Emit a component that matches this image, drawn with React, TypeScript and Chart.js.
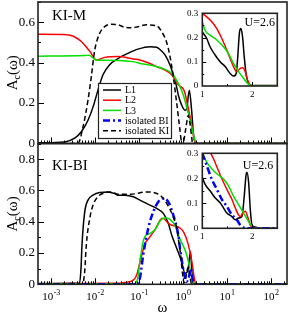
import React, { useEffect, useRef } from "react";
import { Chart, registerables } from "chart.js";

Chart.register(...registerables);

type Pt = [number, number];

const FONT = '"Liberation Serif", "Times New Roman", serif';

// ---------- labels ----------
const SERIES_LABELS = ["L1", "L2", "L3", "isolated BI", "isolated KI"];
const PANEL_LABELS = ["KI-M", "KI-BI"];
const INSET_NOTE = "U=2.6";
const X_TICK_EXPONENTS = [-3, -2, -1, 0, 1, 2];
const X_TITLE = "ω";

// ---------- axis ranges ----------
const X_MIN = 5.07e-4;
const X_MAX = 231;
const TOP_Y_MAX = 0.7;
const BOT_Y_MAX = 0.9;
const MAIN_Y_STEP = 0.2;
const INSET_X_MIN = 1;
const INSET_X_MAX = 2.5;
const INSET_Y_MAX = 0.3;
const INSET_Y_STEP = 0.1;

// ---------- top panel (KI-M) ----------
const TOP_L1: Pt[] = [
  [5.07e-4, 0.004], [0.00205, 0.008], [0.00346, 0.026], [0.00489, 0.058], [0.00694, 0.115],
  [0.00901, 0.18], [0.0117, 0.264], [0.0152, 0.34], [0.0216, 0.39], [0.0333, 0.42],
  [0.0562, 0.446], [0.0948, 0.467], [0.178, 0.479], [0.252, 0.476], [0.3, 0.465],
  [0.39, 0.438], [0.507, 0.388], [0.602, 0.34], [0.7, 0.29], [0.782, 0.24],
  [0.933, 0.19], [1.11, 0.165], [1.21, 0.17], [1.39, 0.264], [1.58, 0.157],
  [1.71, 0.058], [1.87, 0.01], [2.08, 0], [231, 0],
];
const TOP_L2: Pt[] = [
  [5.07e-4, 0.54], [0.00231, 0.538], [0.00457, 0.51], [0.00769, 0.455], [0.0107, 0.413],
  [0.0166, 0.426], [0.0333, 0.43], [0.0742, 0.418], [0.105, 0.413], [0.178, 0.396],
  [0.252, 0.38], [0.357, 0.367], [0.553, 0.34], [0.782, 0.29], [1.07, 0.26],
  [1.32, 0.174], [1.58, 0.09], [1.81, 0.016], [2.0, 0], [231, 0],
];
const TOP_L3: Pt[] = [
  [5.07e-4, 0.432], [0.00593, 0.435], [0.00731, 0.437], [0.0105, 0.413], [0.0169, 0.412],
  [0.037, 0.41], [0.073, 0.405], [0.125, 0.393], [0.211, 0.385], [0.357, 0.37],
  [0.553, 0.347], [0.782, 0.297], [1.016, 0.24], [1.32, 0.149], [1.58, 0.082],
  [1.81, 0.025], [2.08, 0], [231, 0],
];
const TOP_BI: Pt[] = [];
const TOP_KI: Pt[] = [
  [5.07e-4, 0], [0.00411, 0], [0.00534, 0.082], [0.00694, 0.215], [0.00824, 0.33],
  [0.00984, 0.46], [0.0128, 0.545], [0.0166, 0.578], [0.0234, 0.59], [0.0333, 0.587],
  [0.0473, 0.575], [0.0669, 0.572], [0.0948, 0.578], [0.15, 0.587], [0.252, 0.582],
  [0.328, 0.553], [0.426, 0.5], [0.507, 0.43], [0.602, 0.33], [0.719, 0.2],
  [0.84, 0.08], [0.92, 0.015], [1.03, 0.012], [1.13, 0.06], [1.25, 0.12],
  [1.32, 0.14], [1.44, 0.1], [1.58, 0.03], [1.65, 0], [231, 0],
];

// ---------- bottom panel (KI-BI) ----------
const BOT_L1: Pt[] = [
  [5.07e-4, 0.005], [0.00445, 0.008], [0.00481, 0.1], [0.00506, 0.25], [0.00583, 0.46],
  [0.00694, 0.538], [0.00901, 0.57], [0.0128, 0.587], [0.0197, 0.59], [0.028, 0.58],
  [0.0333, 0.57], [0.0473, 0.57], [0.0742, 0.56], [0.105, 0.538], [0.178, 0.506],
  [0.252, 0.485], [0.357, 0.453], [0.463, 0.39], [0.553, 0.315], [0.719, 0.23],
  [0.933, 0.144], [1.11, 0.07], [1.3, 0.09], [1.48, 0.21], [1.56, 0.12],
  [1.68, 0.01], [1.87, 0], [231, 0],
];
const BOT_L2: Pt[] = [
  [5.07e-4, 0.004], [0.0285, 0.006], [0.048, 0.012], [0.0742, 0.027], [0.0887, 0.06],
  [0.105, 0.14], [0.114, 0.18], [0.136, 0.26], [0.163, 0.29], [0.195, 0.32],
  [0.232, 0.35], [0.275, 0.39], [0.33, 0.42], [0.357, 0.42], [0.463, 0.39],
  [0.602, 0.375], [0.855, 0.36], [1.05, 0.33], [1.3, 0.26], [1.58, 0.15],
  [1.78, 0.05], [1.97, 0], [231, 0],
];
const BOT_L3: Pt[] = [
  [5.07e-4, 0.003], [0.08, 0.003], [0.0967, 0.06], [0.105, 0.155], [0.114, 0.21],
  [0.121, 0.26], [0.136, 0.305], [0.178, 0.325], [0.232, 0.35], [0.3, 0.405],
  [0.39, 0.425], [0.507, 0.415], [0.658, 0.375], [0.855, 0.29], [1.21, 0.19],
  [1.44, 0.1], [1.7, 0.02], [1.87, 0], [231, 0],
];
const BOT_BI: Pt[] = [
  [5.07e-4, 0], [0.0925, 0], [0.105, 0.04], [0.125, 0.19], [0.163, 0.36],
  [0.211, 0.464], [0.275, 0.527], [0.357, 0.55], [0.463, 0.527], [0.602, 0.443],
  [0.782, 0.315], [0.855, 0.23], [1.04, 0.08], [1.21, 0.017], [1.37, 0.05],
  [1.5, 0.1], [1.69, 0.02], [1.87, 0], [231, 0],
];
const BOT_KI: Pt[] = [
  [5.07e-4, 0], [0.0052, 0], [0.00583, 0.08], [0.00634, 0.25], [0.00759, 0.42],
  [0.00901, 0.506], [0.0117, 0.56], [0.0166, 0.585], [0.0234, 0.59], [0.0333, 0.575],
  [0.0624, 0.575], [0.15, 0.59], [0.3, 0.57], [0.426, 0.517], [0.602, 0.43],
  [0.719, 0.36], [0.782, 0.294], [0.855, 0.22], [0.984, 0.06], [1.04, 0.016],
  [1.1, 0.01], [1.17, 0.05], [1.32, 0.11], [1.44, 0.05], [1.58, 0], [231, 0],
];

// ---------- insets (linear ω from 1 to 2.5) ----------
const TOP_IN_L1: Pt[] = [
  [1.0, 0.223], [1.089, 0.196], [1.155, 0.162], [1.256, 0.128], [1.356, 0.1],
  [1.457, 0.08], [1.557, 0.052], [1.624, 0.041], [1.678, 0.052], [1.704, 0.107],
  [1.745, 0.223], [1.773, 0.237], [1.805, 0.203], [1.839, 0.12], [1.879, 0.045],
  [1.926, 0.011], [1.994, 0.002], [2.5, 0.002],
];
const TOP_IN_L2: Pt[] = [
  [1.0, 0.299], [1.089, 0.285], [1.189, 0.265], [1.29, 0.237], [1.39, 0.196],
  [1.49, 0.148], [1.557, 0.114], [1.624, 0.08], [1.692, 0.059], [1.759, 0.073],
  [1.805, 0.075], [1.859, 0.059], [1.905, 0.025], [1.96, 0.004], [2.0, 0], [2.5, 0],
];
const TOP_IN_L3: Pt[] = [
  [1.0, 0.265], [1.054, 0.23], [1.155, 0.21], [1.29, 0.19], [1.423, 0.162],
  [1.523, 0.134], [1.624, 0.093], [1.724, 0.059], [1.825, 0.032], [1.905, 0.011],
  [1.994, 0], [2.5, 0],
];
const BOT_IN_L1: Pt[] = [
  [1.0, 0.204], [1.054, 0.177], [1.155, 0.15], [1.256, 0.122], [1.356, 0.102],
  [1.423, 0.082], [1.49, 0.061], [1.592, 0.047], [1.658, 0.034], [1.724, 0.041],
  [1.793, 0.047], [1.839, 0.129], [1.873, 0.21], [1.893, 0.224], [1.926, 0.184],
  [1.96, 0.075], [1.994, 0.013], [2.06, 0.005], [2.15, 0], [2.5, 0],
];
const BOT_IN_L2: Pt[] = [
  [1.0, 0.37], [1.155, 0.306], [1.221, 0.279], [1.322, 0.231], [1.423, 0.184],
  [1.523, 0.143], [1.592, 0.116], [1.658, 0.082], [1.724, 0.054], [1.759, 0.047],
  [1.813, 0.061], [1.859, 0.068], [1.905, 0.047], [1.96, 0.013], [2.03, 0], [2.5, 0],
];
const BOT_IN_L3: Pt[] = [
  [1.0, 0.3], [1.089, 0.265], [1.189, 0.238], [1.29, 0.218], [1.423, 0.197],
  [1.523, 0.17], [1.624, 0.129], [1.724, 0.095], [1.825, 0.061], [1.926, 0.027],
  [1.994, 0.009], [2.06, 0], [2.5, 0],
];
const BOT_IN_BI: Pt[] = [
  [1.0, 0.3], [1.089, 0.251], [1.189, 0.197], [1.29, 0.156], [1.39, 0.116],
  [1.49, 0.088], [1.592, 0.054], [1.692, 0.034], [1.759, 0.013], [1.825, 0.003],
  [1.9, 0], [2.5, 0],
];

// ---------- styles ----------
const STYLES = [
  { color: "#000000", width: 1.5, dash: [] as number[] },
  { color: "#ff0000", width: 1.5, dash: [] as number[] },
  { color: "#00e000", width: 1.5, dash: [] as number[] },
  { color: "#0000ff", width: 2.5, dash: [7, 3, 2, 3] },
  { color: "#000000", width: 1.5, dash: [5, 3] },
];

function ds(i: number, data: Pt[]) {
  const s = STYLES[i];
  return {
    label: SERIES_LABELS[i],
    data,
    borderColor: s.color,
    backgroundColor: s.color,
    borderWidth: s.width,
    borderDash: s.dash,
    pointRadius: 0,
    pointHoverRadius: 0,
    fill: false,
    order: 5 - i,
    cubicInterpolationMode: "monotone" as const,
  };
}

const fmt = (v: number, d: number) => (Math.abs(v) < 1e-9 ? "0" : Number(v).toFixed(d));

function mainDecor(p: { panel: string; panelBaseline: number; legend: boolean; bottomAxis: boolean }) {
  return {
    id: "mainDecor",
    afterDraw(chart: any) {
      const ctx: CanvasRenderingContext2D = chart.ctx;
      const { left, right, top, bottom } = chart.chartArea;
      const xs = chart.scales.x;
      const ys = chart.scales.y;
      ctx.save();
      // inward ticks
      ctx.strokeStyle = "#000";
      ctx.lineWidth = 1;
      ctx.setLineDash([]);
      ctx.beginPath();
      for (let k = -4; k <= 3; k++) {
        for (let m = 1; m <= 9; m++) {
          const v = m * Math.pow(10, k);
          if (v < xs.min || v > xs.max) continue;
          const x = Math.round(xs.getPixelForValue(v)) + 0.5;
          const len = m === 1 ? 6 : 3;
          ctx.moveTo(x, bottom);
          ctx.lineTo(x, bottom - len);
        }
      }
      const nMinor = Math.round(ys.max / (MAIN_Y_STEP / 2));
      for (let j = 1; j <= nMinor; j++) {
        const v = (j * MAIN_Y_STEP) / 2;
        const y = Math.round(ys.getPixelForValue(v)) + 0.5;
        const len = j % 2 === 0 ? 6 : 3;
        ctx.moveTo(left, y);
        ctx.lineTo(left + len, y);
      }
      ctx.stroke();
      // frame
      ctx.lineWidth = 1.6;
      ctx.strokeStyle = "#222";
      ctx.strokeRect(left, top, right - left, bottom - top);

      // y title A_c(ω)
      ctx.fillStyle = "#000";
      ctx.save();
      ctx.translate(12, (top + bottom) / 2);
      ctx.rotate(-Math.PI / 2);
      ctx.textBaseline = "alphabetic";
      ctx.textAlign = "left";
      ctx.font = `15px ${FONT}`;
      const wA = ctx.measureText("A").width;
      const wR = ctx.measureText("(ω)").width;
      ctx.font = `10px ${FONT}`;
      const wc = ctx.measureText("c").width;
      const x0 = -(wA + wc + wR) / 2;
      ctx.font = `15px ${FONT}`;
      ctx.fillText("A", x0, 5);
      ctx.fillText("(ω)", x0 + wA + wc, 5);
      ctx.font = `10px ${FONT}`;
      ctx.fillText("c", x0 + wA, 8);
      ctx.restore();

      // panel label
      ctx.font = `15px ${FONT}`;
      ctx.textAlign = "left";
      ctx.textBaseline = "alphabetic";
      ctx.fillText(p.panel, 52, p.panelBaseline);

      if (p.legend) {
        const bx = 98.5, by = 83.5, bw = 73, bh = 55;
        ctx.fillStyle = "#fff";
        ctx.fillRect(bx, by, bw, bh);
        ctx.strokeStyle = "#222";
        ctx.lineWidth = 1.2;
        ctx.strokeRect(bx, by, bw, bh);
        SERIES_LABELS.forEach((lab, i) => {
          const y = 90 + i * 10.2;
          const s = STYLES[i];
          ctx.strokeStyle = s.color;
          ctx.lineWidth = s.width;
          ctx.setLineDash(s.dash);
          ctx.beginPath();
          ctx.moveTo(103, y);
          ctx.lineTo(121, y);
          ctx.stroke();
          ctx.setLineDash([]);
          ctx.fillStyle = "#000";
          ctx.font = `10px ${FONT}`;
          ctx.textBaseline = "middle";
          ctx.fillText(lab, 125, y + 0.5);
        });
      }

      if (p.bottomAxis) {
        ctx.fillStyle = "#000";
        ctx.textBaseline = "alphabetic";
        ctx.textAlign = "left";
        X_TICK_EXPONENTS.forEach((e) => {
          const x = xs.getPixelForValue(Math.pow(10, e));
          ctx.font = `11px ${FONT}`;
          const w1 = ctx.measureText("10").width;
          ctx.font = `8px ${FONT}`;
          const es = String(e);
          const w2 = ctx.measureText(es).width;
          const sx = x - (w1 + w2) / 2;
          ctx.font = `11px ${FONT}`;
          ctx.fillText("10", sx, bottom + 15.7);
          ctx.font = `8px ${FONT}`;
          ctx.fillText(es, sx + w1 + 0.5, bottom + 10.5);
        });
        ctx.font = `15px ${FONT}`;
        ctx.textAlign = "center";
        ctx.textBaseline = "middle";
        ctx.fillText(X_TITLE, (left + right) / 2, bottom + 24);
      }
      ctx.restore();
    },
  };
}

function mainConfig(p: {
  datasets: any[];
  yMax: number;
  padTop: number;
  xAxisHeight: number;
  panel: string;
  panelBaseline: number;
  legend: boolean;
  bottomAxis: boolean;
}): any {
  return {
    type: "line",
    data: { datasets: p.datasets },
    options: {
      animation: false,
      responsive: false,
      maintainAspectRatio: false,
      events: [],
      layout: { padding: { left: 0, top: p.padTop, right: 2, bottom: 0 } },
      plugins: { legend: { display: false }, tooltip: { enabled: false } },
      scales: {
        x: {
          type: "logarithmic",
          min: X_MIN,
          max: X_MAX,
          grid: { display: false, drawTicks: false },
          border: { display: false },
          ticks: { display: false },
          afterFit: (s: any) => {
            s.height = p.xAxisHeight;
            s.paddingLeft = 0;
            s.paddingRight = 0;
          },
        },
        y: {
          type: "linear",
          min: 0,
          max: p.yMax,
          grid: { display: false, drawTicks: false },
          border: { display: false },
          ticks: {
            stepSize: MAIN_Y_STEP,
            includeBounds: false,
            padding: 3,
            color: "#000",
            font: { family: FONT, size: 13 },
            callback: (v: any) => fmt(Number(v), 1),
          },
          afterFit: (s: any) => {
            s.width = 38;
            s.paddingTop = 0;
            s.paddingBottom = 0;
          },
        },
      },
    },
    plugins: [mainDecor(p)],
  };
}

function insetDecor(p: { noteDx: number; noteDy: number }) {
  return {
    id: "insetDecor",
    beforeDatasetsDraw(chart: any) {
      const { left, right, top, bottom } = chart.chartArea;
      const ctx: CanvasRenderingContext2D = chart.ctx;
      ctx.save();
      ctx.fillStyle = "#fff";
      ctx.fillRect(left, top, right - left, bottom - top);
      ctx.restore();
    },
    afterDraw(chart: any) {
      const { left, right, top, bottom } = chart.chartArea;
      const ctx: CanvasRenderingContext2D = chart.ctx;
      const xs = chart.scales.x;
      const ys = chart.scales.y;
      ctx.save();
      ctx.strokeStyle = "#000";
      ctx.lineWidth = 1;
      ctx.beginPath();
      for (let j = 0; j <= 3; j++) {
        const v = INSET_X_MIN + j * 0.5;
        const x = Math.round(xs.getPixelForValue(v)) + 0.5;
        const len = j % 2 === 0 ? 4 : 2;
        ctx.moveTo(x, bottom);
        ctx.lineTo(x, bottom - len);
      }
      for (let j = 1; j <= 5; j++) {
        const v = (j * INSET_Y_STEP) / 2;
        const y = Math.round(ys.getPixelForValue(v)) + 0.5;
        const len = j % 2 === 0 ? 4 : 2;
        ctx.moveTo(left, y);
        ctx.lineTo(left + len, y);
      }
      ctx.stroke();
      ctx.lineWidth = 1.6;
      ctx.strokeStyle = "#222";
      ctx.strokeRect(left, top, right - left, bottom - top);
      ctx.fillStyle = "#000";
      ctx.font = `12px ${FONT}`;
      ctx.textAlign = "right";
      ctx.textBaseline = "middle";
      ctx.fillText(INSET_NOTE, right + p.noteDx, top + p.noteDy);
      ctx.restore();
    },
  };
}

function insetConfig(p: { datasets: any[]; padTop: number; xAxisHeight: number; noteDx: number; noteDy: number }): any {
  return {
    type: "line",
    data: { datasets: p.datasets },
    options: {
      animation: false,
      responsive: false,
      maintainAspectRatio: false,
      events: [],
      layout: { padding: { left: 0, top: p.padTop, right: 8.7, bottom: 0 } },
      plugins: { legend: { display: false }, tooltip: { enabled: false } },
      scales: {
        x: {
          type: "linear",
          min: INSET_X_MIN,
          max: INSET_X_MAX,
          grid: { display: false, drawTicks: false },
          border: { display: false },
          ticks: {
            stepSize: 1,
            includeBounds: false,
            padding: 3,
            maxRotation: 0,
            color: "#000",
            font: { family: FONT, size: 9 },
            callback: (v: any) => fmt(Number(v), 0),
          },
          afterFit: (s: any) => {
            s.height = p.xAxisHeight;
            s.paddingLeft = 0;
            s.paddingRight = 0;
          },
        },
        y: {
          type: "linear",
          min: 0,
          max: INSET_Y_MAX,
          grid: { display: false, drawTicks: false },
          border: { display: false },
          ticks: {
            stepSize: INSET_Y_STEP,
            includeBounds: false,
            padding: 4,
            color: "#000",
            font: { family: FONT, size: 9 },
            callback: (v: any) => fmt(Number(v), 1),
          },
          afterFit: (s: any) => {
            s.width = 24.3;
            s.paddingTop = 0;
            s.paddingBottom = 0;
          },
        },
      },
    },
    plugins: [insetDecor(p)],
  };
}

export default function App() {
  const topRef = useRef<HTMLCanvasElement>(null);
  const botRef = useRef<HTMLCanvasElement>(null);
  const topInRef = useRef<HTMLCanvasElement>(null);
  const botInRef = useRef<HTMLCanvasElement>(null);

  useEffect(() => {
    const charts: Chart[] = [];
    charts.push(
      new Chart(
        topRef.current as HTMLCanvasElement,
        mainConfig({
          datasets: [ds(0, TOP_L1), ds(1, TOP_L2), ds(2, TOP_L3), ds(3, TOP_BI), ds(4, TOP_KI)],
          yMax: TOP_Y_MAX,
          padTop: 2,
          xAxisHeight: 6.5,
          panel: PANEL_LABELS[0],
          panelBaseline: 20,
          legend: true,
          bottomAxis: false,
        })
      )
    );
    charts.push(
      new Chart(
        botRef.current as HTMLCanvasElement,
        mainConfig({
          datasets: [ds(0, BOT_L1), ds(1, BOT_L2), ds(2, BOT_L3), ds(3, BOT_BI), ds(4, BOT_KI)],
          yMax: BOT_Y_MAX,
          padTop: 3.5,
          xAxisHeight: 29.7,
          panel: PANEL_LABELS[1],
          panelBaseline: 30,
          legend: false,
          bottomAxis: true,
        })
      )
    );
    charts.push(
      new Chart(
        topInRef.current as HTMLCanvasElement,
        insetConfig({
          datasets: [ds(0, TOP_IN_L1), ds(1, TOP_IN_L2), ds(2, TOP_IN_L3)],
          padTop: 10.3,
          xAxisHeight: 17,
          noteDx: -2.3,
          noteDy: 9.2,
        })
      )
    );
    charts.push(
      new Chart(
        botInRef.current as HTMLCanvasElement,
        insetConfig({
          datasets: [ds(0, BOT_IN_L1), ds(1, BOT_IN_L2), ds(2, BOT_IN_L3), ds(3, BOT_IN_BI)],
          padTop: 10.3,
          xAxisHeight: 14.7,
          noteDx: -4,
          noteDy: 12.7,
        })
      )
    );
    return () => charts.forEach((c) => c.destroy());
  }, []);

  const abs = (l: number, t: number, w: number, h: number): React.CSSProperties => ({
    position: "absolute",
    left: l,
    top: t,
    width: w,
    height: h,
  });

  return (
    <div style={{ position: "fixed", left: 0, top: 0, width: 289, height: 314, background: "#fff", overflow: "hidden" }}>
      <canvas ref={topRef} width={289} height={150} style={abs(0, 0, 289, 150)} />
      <canvas ref={botRef} width={289} height={174} style={abs(0, 140, 289, 174)} />
      <canvas ref={topInRef} width={108} height={100} style={abs(178, 3, 108, 100)} />
      <canvas ref={botInRef} width={108} height={100} style={abs(178, 143, 108, 100)} />
    </div>
  );
}
